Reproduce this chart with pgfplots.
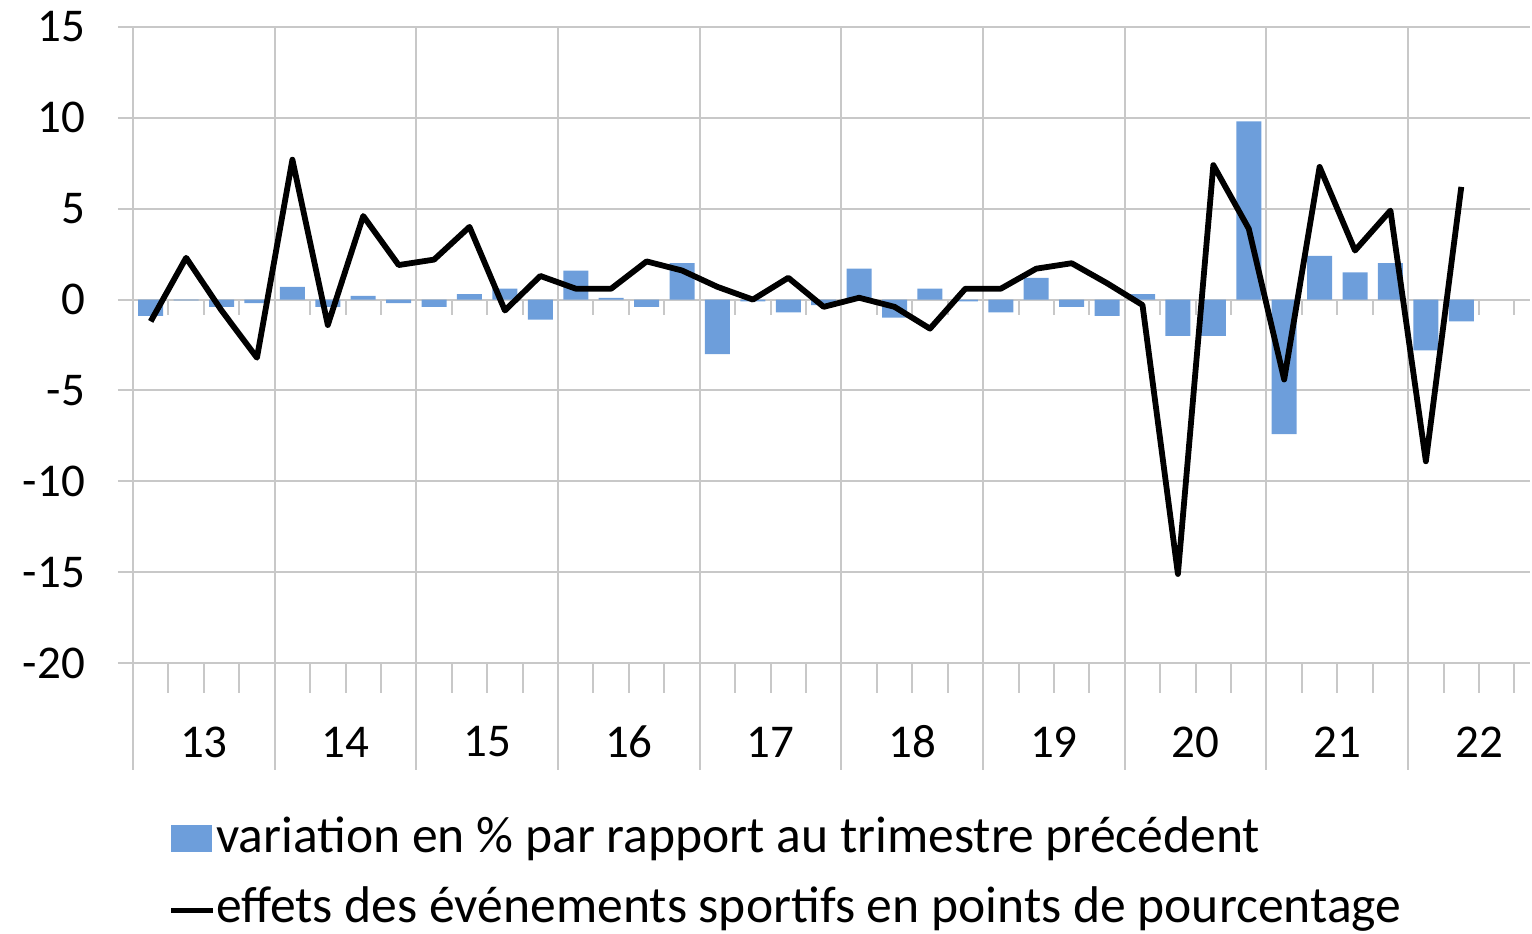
\documentclass[border=0pt]{standalone}
\usepackage{pgfplots}
\pgfplotsset{compat=1.18}
\usepackage{pgfplotstable}
\usepackage{fontspec}
\setmainfont{Carlito}

\definecolor{gridc}{RGB}{200,200,200}
\definecolor{barblue}{RGB}{109,158,219}

% quarter centre, change vs previous quarter (%), sport events effect (pp)
\pgfplotstableread{
x    bar    line
0.5  -0.9   -1.2
1.5  -0.05   2.3
2.5  -0.4   -0.6
3.5  -0.2   -3.2
4.5   0.7    7.7
5.5  -0.4   -1.4
6.5   0.2    4.6
7.5  -0.2    1.9
8.5  -0.4    2.2
9.5   0.3    4.0
10.5  0.6   -0.6
11.5 -1.1    1.3
12.5  1.6    0.6
13.5  0.1    0.6
14.5 -0.4    2.1
15.5  2.0    1.6
16.5 -3.0    0.7
17.5 -0.1    0.0
18.5 -0.7    1.2
19.5 -0.3   -0.4
20.5  1.7    0.1
21.5 -1.0   -0.4
22.5  0.6   -1.6
23.5 -0.1    0.6
24.5 -0.7    0.6
25.5  1.2    1.7
26.5 -0.4    2.0
27.5 -0.9    0.9
28.5  0.3   -0.3
29.5 -2.0  -15.1
30.5 -2.0    7.4
31.5  9.8    3.9
32.5 -7.4   -4.4
33.5  2.4    7.3
34.5  1.5    2.7
35.5  2.0    4.9
36.5 -2.8   -8.9
37.5 -1.2    6.2
}\datatable

\newcommand{\tickfont}{\fontsize{23.5pt}{28pt}\selectfont}
\newcommand{\legfont}{\fontsize{25.8pt}{30pt}\selectfont}

\begin{document}
\begin{tikzpicture}
\useasboundingbox (-66.5pt,-135pt) rectangle (699.5pt,331.5pt);
\begin{axis}[
  scale only axis,
  width=698.5pt, height=318pt,
  xmin=0, xmax=39.44,
  ymin=-20, ymax=15,
  clip=false,
  axis line style={draw=none},
  tick align=outside,
  major tick length=7.5pt,
  ytick={-20,-15,...,15},
  yticklabels={-20,-15,-10,-5,0,5,10,15},
  ytick pos=left,
  ytick style={gridc, line width=1pt},
  ymajorgrids,
  grid style={gridc, line width=1pt},
  xtick={2,6,...,38},
  xticklabels={13,14,15,16,17,18,19,20,21,22},
  xtick pos=left,
  xtick style={draw=none},
  tick label style={font=\tickfont},
  yticklabel style={xshift=-13pt},
  xticklabel style={anchor=center, yshift=-32pt},
  legend style={at={(0,0)}, anchor=north west, xshift=17.5pt, yshift=-77.5pt,
    draw=none, fill=none, inner sep=0pt, row sep=13pt, font=\legfont,
    nodes={inner sep=0pt, text height=17pt, text depth=5pt},
    /tikz/every even column/.append style={column sep=2.5pt}},
  legend cell align=left,
]
% year separators, from the top down through the label area
\pgfplotsinvokeforeach{0,4,8,12,16,20,24,28,32,36}{
  \draw[gridc, line width=1pt] (axis cs:#1,15) -- ([yshift=-53.5pt]axis cs:#1,-20);
}
% quarter ticks at the bottom and on the zero line
\pgfplotsinvokeforeach{1,2,3,5,6,7,9,10,11,13,14,15,17,18,19,21,22,23,25,26,27,29,30,31,33,34,35,37,38,39}{
  \draw[gridc, line width=1pt] (axis cs:#1,-20) -- ([yshift=-15pt]axis cs:#1,-20);
  \draw[gridc, line width=1pt] (axis cs:#1,0) -- ([yshift=-7.5pt]axis cs:#1,0);
}
\addplot[ybar, bar width=12.5pt, bar shift=0pt, fill=barblue, draw=none,
  legend image code/.code={\fill[barblue] (0pt,-6pt) rectangle (20.5pt,7.5pt);}]
  table[x=x, y=bar] {\datatable};
\addlegendentry{variation en \% par rapport au trimestre précédent}
\addplot[black, line width=2.9pt, line join=round, mark=none,
  legend image code/.code={\draw[black, line width=2.9pt] (0pt,0pt) -- (21pt,0pt);}]
  table[x=x, y=line] {\datatable};
\addlegendentry{effets des événements sportifs en points de pourcentage}
\end{axis}
\end{tikzpicture}
\end{document}
